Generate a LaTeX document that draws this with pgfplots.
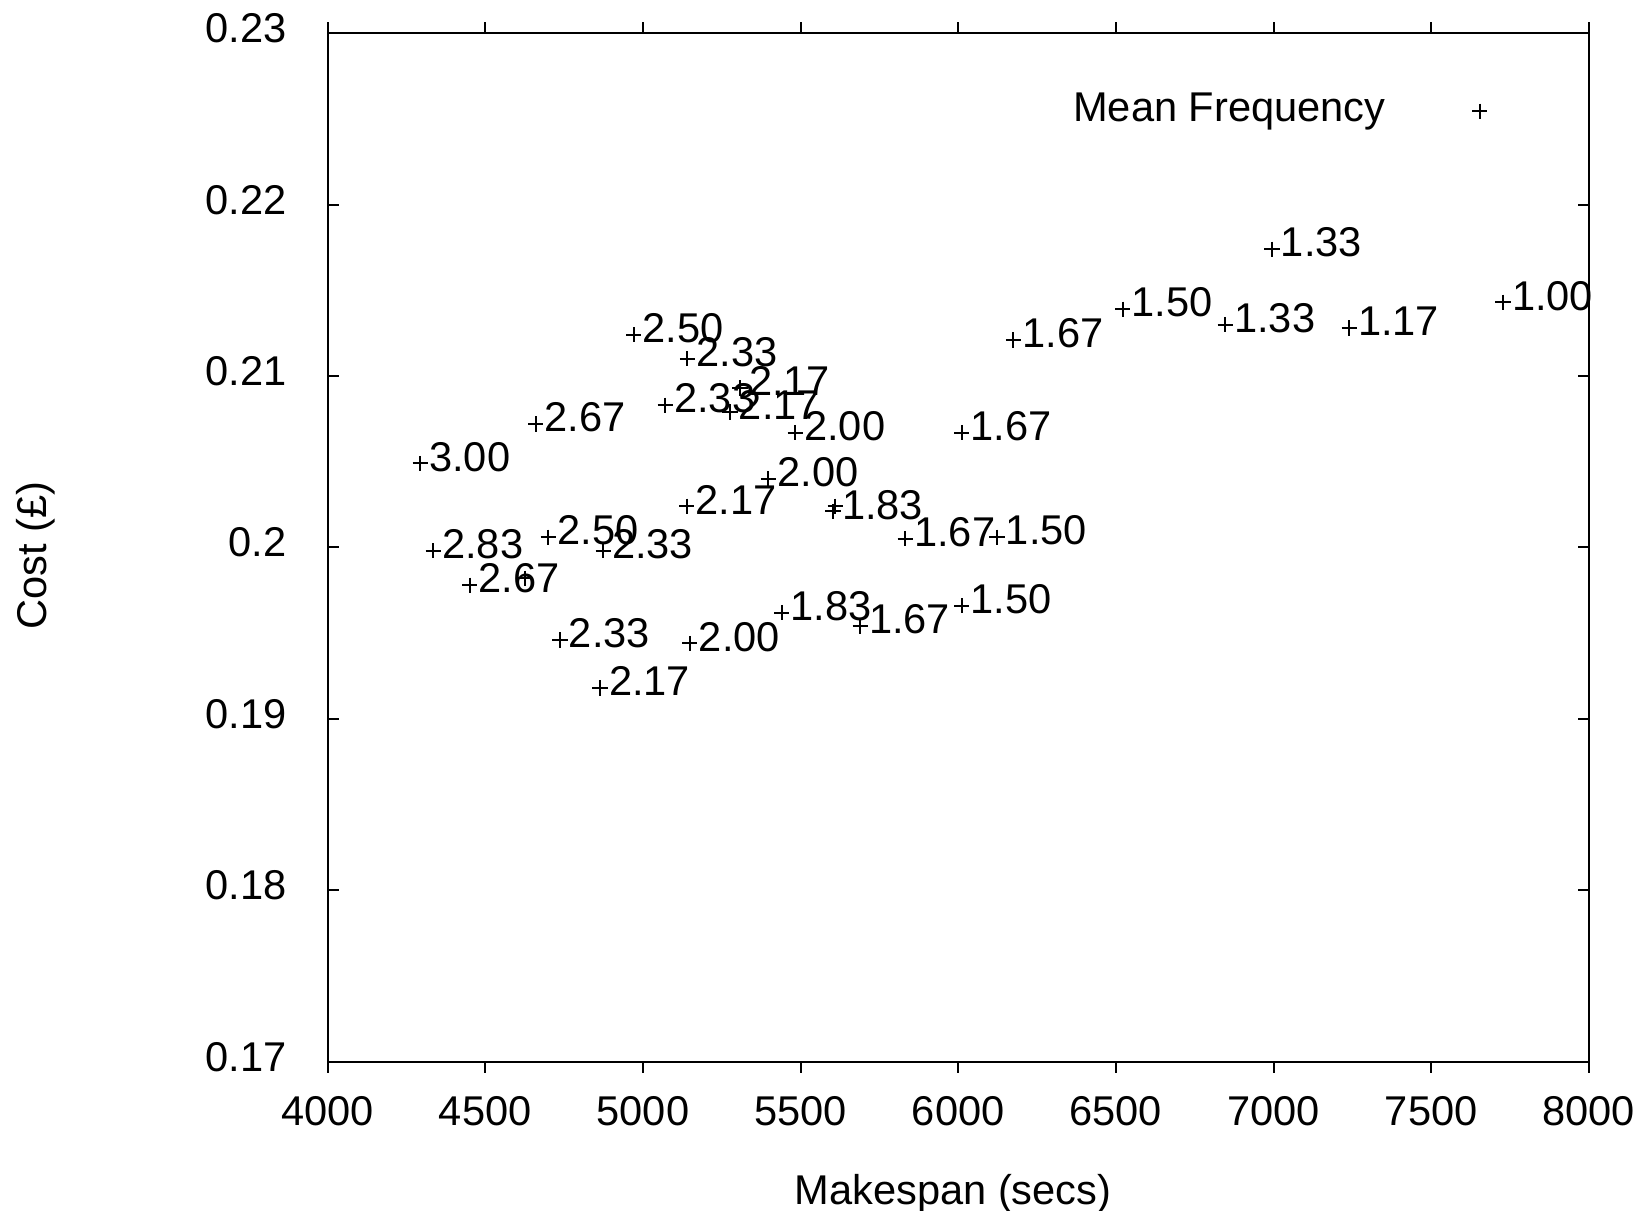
\documentclass[border=0pt]{standalone}
\usepackage{fontspec}
\setmainfont{Liberation Sans}
\usepackage{pgfplots}
\pgfplotsset{compat=1.18}

\pgfplotsset{
  frame/.style={
    width=315.3pt, height=257.1pt, scale only axis,
    xmin=4000, xmax=8000, ymin=0.17, ymax=0.23,
    axis line style={line width=0.5pt, black},
    every tick/.style={black, line width=0.5pt},
    major tick length=2.75pt,
    /pgf/number format/assume math mode=true,
  },
  freq/.style={only marks, mark=+, mark size=1.9pt, mark options={line width=0.5pt, black}},
}

\begin{document}
\begin{tikzpicture}[font=\fontsize{10.4}{12.5}\selectfont]
\useasboundingbox (-81.9pt,-37.3pt) rectangle (330.1pt,265.4pt);

% x ticks point outwards (top and bottom)
\begin{axis}[frame,
  tick align=outside,
  xtick={4000,4500,5000,5500,6000,6500,7000,7500,8000},
  xticklabels={4000,4500,5000,5500,6000,6500,7000,7500,8000},
  ytick=\empty,
  xticklabel style={anchor=center, inner sep=0pt, yshift=-9.6pt},
  xlabel={Makespan (secs)},
  xlabel style={at={([xshift=-1.3pt,yshift=-33pt]axis description cs:0.5,0)}, anchor=center, inner sep=0pt},
  legend plot pos=right,
  legend cell align=right,
  legend style={draw=none, fill=none, at={(0.9196,0.925)}, anchor=east,
    inner sep=0pt, outer sep=0pt, column sep=21.7pt, nodes={inner sep=0pt}},
  legend image code/.code={\draw[#1] plot[only marks] coordinates {(0pt,-0.25pt)};},
  nodes near coords align=horizontal,
]
\addplot[freq,
  nodes near coords, point meta=explicit symbolic,
  every node near coord/.append style={anchor=west, inner sep=0pt, xshift=2pt, yshift=1.65pt, black}]
  coordinates {
  (4294,0.2049) [3.00]
  (4660,0.2072) [2.67]
  (4971,0.2124) [2.50]
  (5141,0.2110) [2.33]
  (5071,0.2083) [2.33]
  (5308,0.2093) [2.17]
  (5276,0.2079) [2.17]
  (5483,0.2067) [2.00]
  (5398,0.2040) [2.00]
  (5603,0.2021) [1.83]
  (5139,0.2024) [2.17]
  (4335,0.1998) [2.83]
  (4700,0.2006) [2.50]
  (4874,0.1998) [2.33]
  (4451,0.1978) [2.67]
  (4737,0.1946) [2.33]
  (5149,0.1944) [2.00]
  (4864,0.1918) [2.17]
  (5440,0.1962) [1.83]
  (5689,0.1954) [1.67]
  (6011,0.1966) [1.50]
  (5832,0.2005) [1.67]
  (6123,0.2006) [1.50]
  (6011,0.2067) [1.67]
  (6175,0.2121) [1.67]
  (6522,0.2139) [1.50]
  (6847,0.2130) [1.33]
  (7240,0.2128) [1.17]
  (6995,0.2174) [1.33]
  (7728,0.2143) [1.00]
  };
\addlegendentry{Mean Frequency}
% points whose labels are hidden under neighbouring labels
\addplot[freq, forget plot]
  coordinates {(4625,0.1982) (5610,0.2024)};
\end{axis}

% y ticks point inwards (left and right)
\begin{axis}[frame,
  tick align=inside,
  xtick=\empty,
  ytick={0.17,0.18,0.19,0.2,0.21,0.22,0.23},
  yticklabels={0.17,0.18,0.19,0.2,0.21,0.22,0.23},
  yticklabel style={anchor=east, inner sep=0pt, xshift=-10.1pt, yshift=1.2pt},
  ylabel={Cost (£)},
  ylabel style={at={([xshift=-73pt,yshift=-2pt]axis description cs:0,0.5)}, anchor=center, inner sep=0pt},
]
\end{axis}
\end{tikzpicture}
\end{document}
